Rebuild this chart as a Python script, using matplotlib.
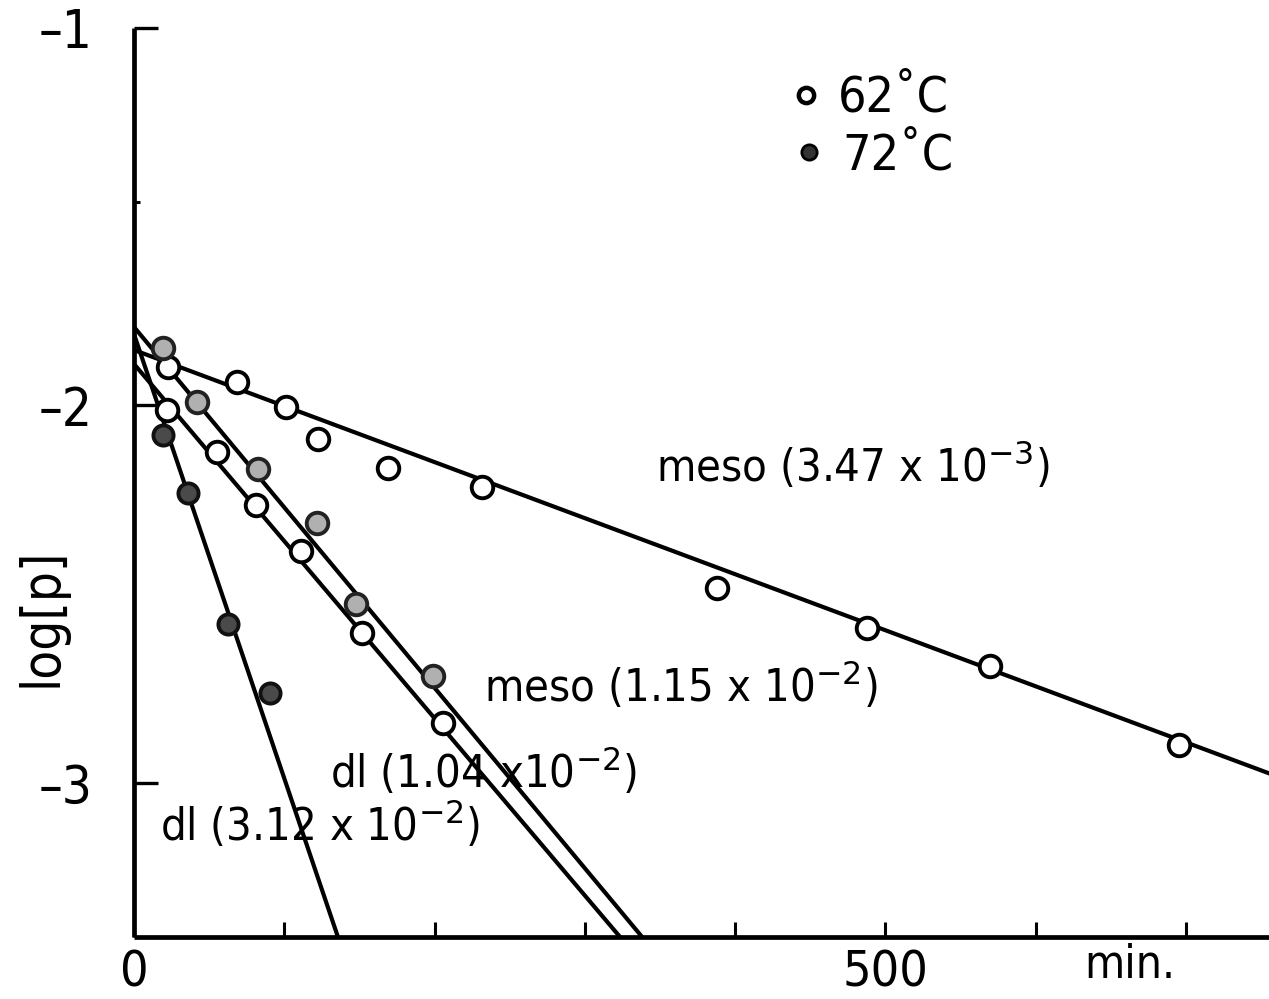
import matplotlib
matplotlib.use("Agg")
import matplotlib.pyplot as plt
import numpy as np

# ---------------- data ----------------
# 62 C (open circles)
meso62_t = [22.6, 68.5, 101, 122.4, 169, 231.5, 388, 487.7, 569.5, 695]
meso62_y = [-1.898, -1.938, -2.004, -2.089, -2.166, -2.216, -2.483, -2.589, -2.690, -2.899]
dl62_t = [22.0, 55.2, 81.2, 111.1, 151.7, 205.6]
dl62_y = [-2.012, -2.123, -2.264, -2.385, -2.603, -2.841]
# 72 C (shaded circles)
meso72_t = [19.3, 41.9, 82.5, 121.8, 147.7, 198.9]
meso72_y = [-1.848, -1.991, -2.168, -2.311, -2.526, -2.717]
dl72_t = [19.3, 35.9, 62.5, 90.5]
dl72_y = [-2.078, -2.232, -2.579, -2.762]

# fitted lines: (intercept at t=0, slope per min)
line_meso62 = (-1.853, -0.001485)
line_meso72 = (-1.792, -0.00478)
line_dl62 = (-1.890, -0.004694)
line_dl72 = (-1.811, -0.01177)

x_ticks = [0, 100, 200, 300, 400, 500, 600, 700]
x_ticklabels = ["0", "", "", "", "", "500", "", ""]
y_ticks = [-3, -2, -1]
y_ticklabels = ["\u20133", "\u20132", "\u20131"]
y_minor = [-1.46]

labels = ["meso (3.47 x 10$^{-3}$)", "meso (1.15 x 10$^{-2}$)",
          "dl (1.04 x10$^{-2}$)", "dl (3.12 x 10$^{-2}$)"]
legend_labels = ["62\u02daC", "72\u02daC"]

# ---------------- figure ----------------
W, H = 1269, 999
fig = plt.figure(figsize=(W / 100, H / 100), dpi=100)
FONT = "DejaVu Sans"
plt.rcParams["font.family"] = [FONT]
plt.rcParams["mathtext.fontset"] = "dejavusans"

def fx(px):
    return px / W

def fy(py):
    return 1 - py / H

ax = fig.add_axes([fx(134), fy(937), (W - 134) / W, (937 - 28) / H])
ax.set_xlim(0, (W - 134) / 1.503)
ax.set_ylim(-3.408, -1.0)
for s in ["top", "right"]:
    ax.spines[s].set_visible(False)
for s in ["left", "bottom"]:
    ax.spines[s].set_linewidth(3.4)
    ax.spines[s].set_capstyle("butt")

lw = 3.0
tt = np.array([0, 800])
for (a, b) in [line_meso62, line_meso72, line_dl62, line_dl72]:
    ax.plot(tt, a + b * tt, color="black", lw=lw, zorder=2, solid_capstyle="butt")

ms = 15.5
mew = 2.8
ax.plot(meso62_t, meso62_y, "o", ms=ms, mfc="white", mec="black", mew=mew, zorder=3, ls="none")
ax.plot(dl62_t, dl62_y, "o", ms=ms, mfc="white", mec="black", mew=mew, zorder=3, ls="none")
ax.plot(meso72_t, meso72_y, "o", ms=ms, mfc="#b0b0b0", mec="#222222", mew=mew, zorder=3, ls="none")
ax.plot(dl72_t, dl72_y, "o", ms=ms - 1, mfc="#4a4a4a", mec="#111111", mew=mew, zorder=3, ls="none")

ax.set_xticks(x_ticks)
ax.set_xticklabels(x_ticklabels, fontstretch="condensed")
ax.set_yticks(y_ticks)
ax.set_yticklabels(y_ticklabels, fontstretch="condensed")
ax.set_yticks(y_minor, minor=True)
ax.tick_params(axis="x", direction="in", length=11, width=2.2, pad=8, labelsize=36)
ax.tick_params(axis="y", direction="in", length=17, width=2.4, pad=30, labelsize=38)
ax.tick_params(axis="y", which="minor", direction="in", length=4, width=2.2)

# axis labels
fig.text(fx(42), fy(617), "log[p]", rotation=90, ha="center", va="center", fontsize=38,
         fontstretch="condensed")
fig.text(fx(1130), fy(965), "min.", ha="center", va="center", fontsize=33,
         fontstretch="condensed")

# annotations
tkw = dict(fontsize=32.5, ha="left", va="center", fontstretch="condensed")
fig.text(fx(656), fy(466), labels[0], **tkw)
fig.text(fx(484), fy(686), labels[1], **tkw)
fig.text(fx(330), fy(772), labels[2], **tkw)
fig.text(fx(160), fy(825), labels[3], **tkw)

# legend
fig.lines.append(plt.Line2D([fx(806)], [fy(95)], marker="o", ms=11, mfc="white", mec="black",
                            mew=3.2, transform=fig.transFigure, ls="none"))
fig.lines.append(plt.Line2D([fx(809)], [fy(152)], marker="o", ms=11, mfc="#333333", mec="black",
                            mew=2, transform=fig.transFigure, ls="none"))
fig.text(fx(838), fy(97), legend_labels[0], ha="left", va="center", fontsize=36,
         fontstretch="condensed")
fig.text(fx(842), fy(155), legend_labels[1], ha="left", va="center", fontsize=36,
         fontstretch="condensed")

fig.savefig("out.png", dpi=100, facecolor="white")
